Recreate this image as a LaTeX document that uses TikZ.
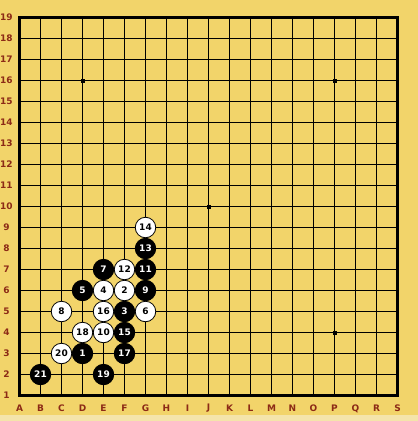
\documentclass[tikz,border=0pt]{standalone}
\usepackage{fontspec}
\setsansfont{DejaVu Sans}
\usetikzlibrary{positioning}

\definecolor{boardyellow}{RGB}{242,212,106}
\definecolor{stripyellow}{RGB}{244,228,170}
\definecolor{labelred}{RGB}{140,42,22}

\begin{document}
\begin{tikzpicture}[
  x=1pt, y=-1pt,
  stone/.style={circle, draw=black, line width=0.8pt, minimum size=20.5pt, inner sep=0pt,
    font=\sffamily\bfseries\fontsize{9}{9}\selectfont},
  bstone/.style={stone, fill=black, text=white},
  wstone/.style={stone, fill=white, text=black},
  coordlabel/.style={text=labelred, inner sep=0pt, font=\sffamily\bfseries\fontsize{9}{9}\selectfont},
  hoshi/.style={rectangle, fill=black, minimum size=4pt, inner sep=0pt}
]
  \useasboundingbox (0,0) rectangle (418,421);
  % background
  \fill[boardyellow] (0,0) rectangle (418,421);
  \fill[stripyellow] (0,415) rectangle (418,421);
  \begin{scope}[shift={(19.5,395.5)}, x=21pt, y=21pt]
    % grid
    \foreach \i in {1,...,17} {
      \draw[line width=1.1pt] (\i,0) -- (\i,18);
      \draw[line width=1.1pt] (0,\i) -- (18,\i);
    }
    \draw[line width=2.2pt] (0,0) rectangle (18,18);
    % star points
    \foreach \c/\r [count=\k] in {3/15, 15/15, 9/9, 15/3} {
      \node[hoshi] (h\k) at (\c,\r) {};
    }
    % coordinates
    \foreach \l [count=\i from 0] in {A,B,C,D,E,F,G,H,I,J,K,L,M,N,O,P,Q,R,S} {
      \node[coordlabel] (col\l) at (\i,-0.62) {\l};
    }
    \foreach \r in {1,...,19} {
      \node[coordlabel] (row\r) at (-0.62,\r-1) {\r};
    }
    % stones
    \foreach \c/\r/\n/\s in {3/2/1/bstone, 5/5/2/wstone, 5/4/3/bstone, 4/5/4/wstone,
      3/5/5/bstone, 6/4/6/wstone, 4/6/7/bstone, 2/4/8/wstone, 6/5/9/bstone,
      4/3/10/wstone, 6/6/11/bstone, 5/6/12/wstone, 6/7/13/bstone, 6/8/14/wstone,
      5/3/15/bstone, 4/4/16/wstone, 5/2/17/bstone, 3/3/18/wstone, 4/1/19/bstone,
      2/2/20/wstone, 1/1/21/bstone} {
      \node[\s] (m\n) at (\c,\r) {\n};
    }
  \end{scope}
\end{tikzpicture}
\end{document}
